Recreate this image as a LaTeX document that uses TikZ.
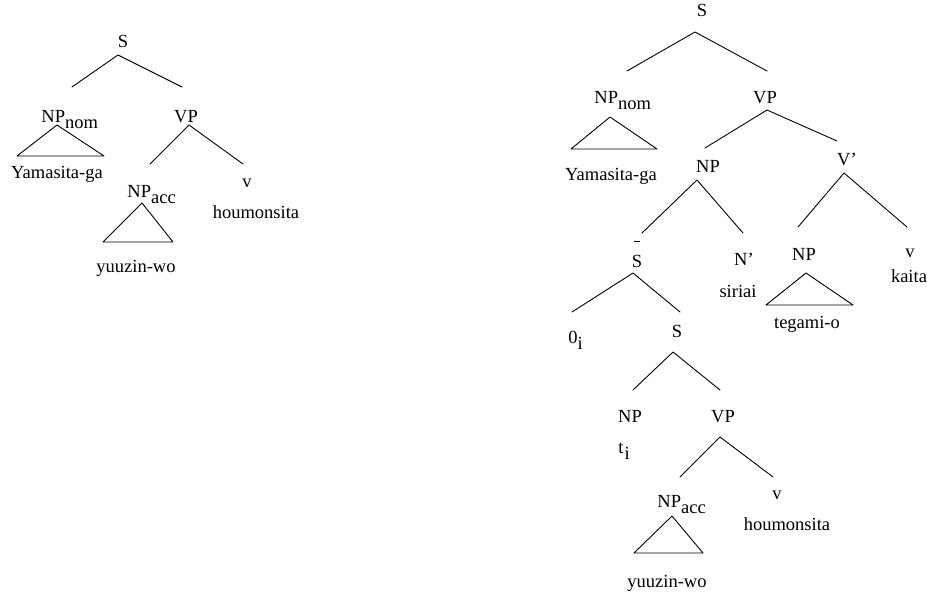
\documentclass[tikz,border=0pt]{standalone}
\usepackage{fontspec}
\setmainfont{Liberation Serif}
% labels: lowered full-size index, and S with a bar
\newcommand{\lowsub}[1]{\raisebox{-6pt}{#1}}
\newcommand{\barS}{\rlap{\hspace{2pt}\rule[25pt]{6.5pt}{0.8pt}}S}
\begin{document}
\begin{tikzpicture}[x=1pt,y=-1pt,line cap=round,line join=round,line width=0.9pt,
  every node/.style={anchor=base,inner sep=0pt,font=\fontsize{18.5}{20}\selectfont},
  lbl/.style={anchor=base west}]
\useasboundingbox (0,0) rectangle (927,594);

% ---- left tree ----
\node (ls) at (123,48) {S};
\node[lbl] (lnpnom) at (41,122) {NP\lowsub{nom}};
\node (lvp) at (186,122) {VP};
\node (lyama) at (57,178) {Yamasita-ga};
\node[lbl] (lnpacc) at (127,197) {NP\lowsub{acc}};
\node (lv) at (247,187) {v};
\node (lhoum) at (256,218) {houmonsita};
\node (lyuu) at (136,272) {yuuzin-wo};

\coordinate (ls-top) at (118,55);
\coordinate (ls-l) at (72,87);
\coordinate (ls-r) at (182,87);
\coordinate (lvp-top) at (189,125);
\coordinate (lvp-l) at (150,164);
\coordinate (lvp-r) at (243,164);
\coordinate (lnom-top) at (57,125);
\coordinate (lnom-l) at (17,156);
\coordinate (lnom-r) at (104,156);
\coordinate (lacc-top) at (142,203);
\coordinate (lacc-l) at (103,242);
\coordinate (lacc-r) at (173,242);

\draw (ls-l) -- (ls-top) -- (ls-r);
\draw (lvp-l) -- (lvp-top) -- (lvp-r);
\draw (lnom-top) -- (lnom-l) -- (lnom-r) -- cycle;
\draw (lacc-top) -- (lacc-l) -- (lacc-r) -- cycle;

% ---- right tree ----
\node (rs) at (702,17) {S};
\node[lbl] (rnpnom) at (594,103) {NP\lowsub{nom}};
\node (rvp) at (765,103) {VP};
\node (ryama) at (611,180) {Yamasita-ga};
\node (rnp) at (708,172) {NP};
\node (rvbar) at (847,165) {V'};
\node (rsbar) at (637,267) {\barS};
\node (rnbar) at (744,265) {N'};
\node (rsiriai) at (738,297) {siriai};
\node (rnpobj) at (804,260) {NP};
\node (rvk) at (910,257) {v};
\node (rkaita) at (909,282) {kaita};
\node (rtegami) at (807,328) {tegami-o};
\node[lbl] (rzero) at (568,343) {0\lowsub{i}};
\node (rs2) at (677,337) {S};
\node (rnpsub) at (630,422) {NP};
\node (rvp2) at (723,422) {VP};
\node[lbl] (rtrace) at (618,453) {t\hspace{1pt}\lowsub{i}};
\node[lbl] (rnpacc) at (657,507) {NP\lowsub{acc}};
\node (rv2) at (777,499) {v};
\node (rhoum) at (787,530) {houmonsita};
\node (ryuu) at (667,587) {yuuzin-wo};

\coordinate (rs-top) at (695,32);
\coordinate (rs-l) at (627,71);
\coordinate (rs-r) at (767,71);
\coordinate (rvp-top) at (767,110);
\coordinate (rvp-l) at (705,148);
\coordinate (rvp-r) at (837,141);
\coordinate (rnp-top) at (697,180);
\coordinate (rnp-l) at (642,233);
\coordinate (rnp-r) at (743,233);
\coordinate (rvbar-top) at (844,173);
\coordinate (rvbar-l) at (798,227);
\coordinate (rvbar-r) at (907,227);
\coordinate (rsbar-top) at (633,273);
\coordinate (rsbar-l) at (572,312);
\coordinate (rsbar-r) at (680,312);
\coordinate (rs2-top) at (673,352);
\coordinate (rs2-l) at (633,390);
\coordinate (rs2-r) at (720,390);
\coordinate (rvp2-top) at (720,437);
\coordinate (rvp2-l) at (680,477);
\coordinate (rvp2-r) at (773,477);
\coordinate (rnom-top) at (610,117);
\coordinate (rnom-l) at (571,149);
\coordinate (rnom-r) at (657,149);
\coordinate (robj-top) at (806,273);
\coordinate (robj-l) at (766,305);
\coordinate (robj-r) at (853,305);
\coordinate (racc-top) at (672,516);
\coordinate (racc-l) at (634,553);
\coordinate (racc-r) at (703,553);

\draw (rs-l) -- (rs-top) -- (rs-r);
\draw (rvp-l) -- (rvp-top) -- (rvp-r);
\draw (rnp-l) -- (rnp-top) -- (rnp-r);
\draw (rvbar-l) -- (rvbar-top) -- (rvbar-r);
\draw (rsbar-l) -- (rsbar-top) -- (rsbar-r);
\draw (rs2-l) -- (rs2-top) -- (rs2-r);
\draw (rvp2-l) -- (rvp2-top) -- (rvp2-r);
\draw (rnom-top) -- (rnom-l) -- (rnom-r) -- cycle;
\draw (robj-top) -- (robj-l) -- (robj-r) -- cycle;
\draw (racc-top) -- (racc-l) -- (racc-r) -- cycle;
\end{tikzpicture}
\end{document}
